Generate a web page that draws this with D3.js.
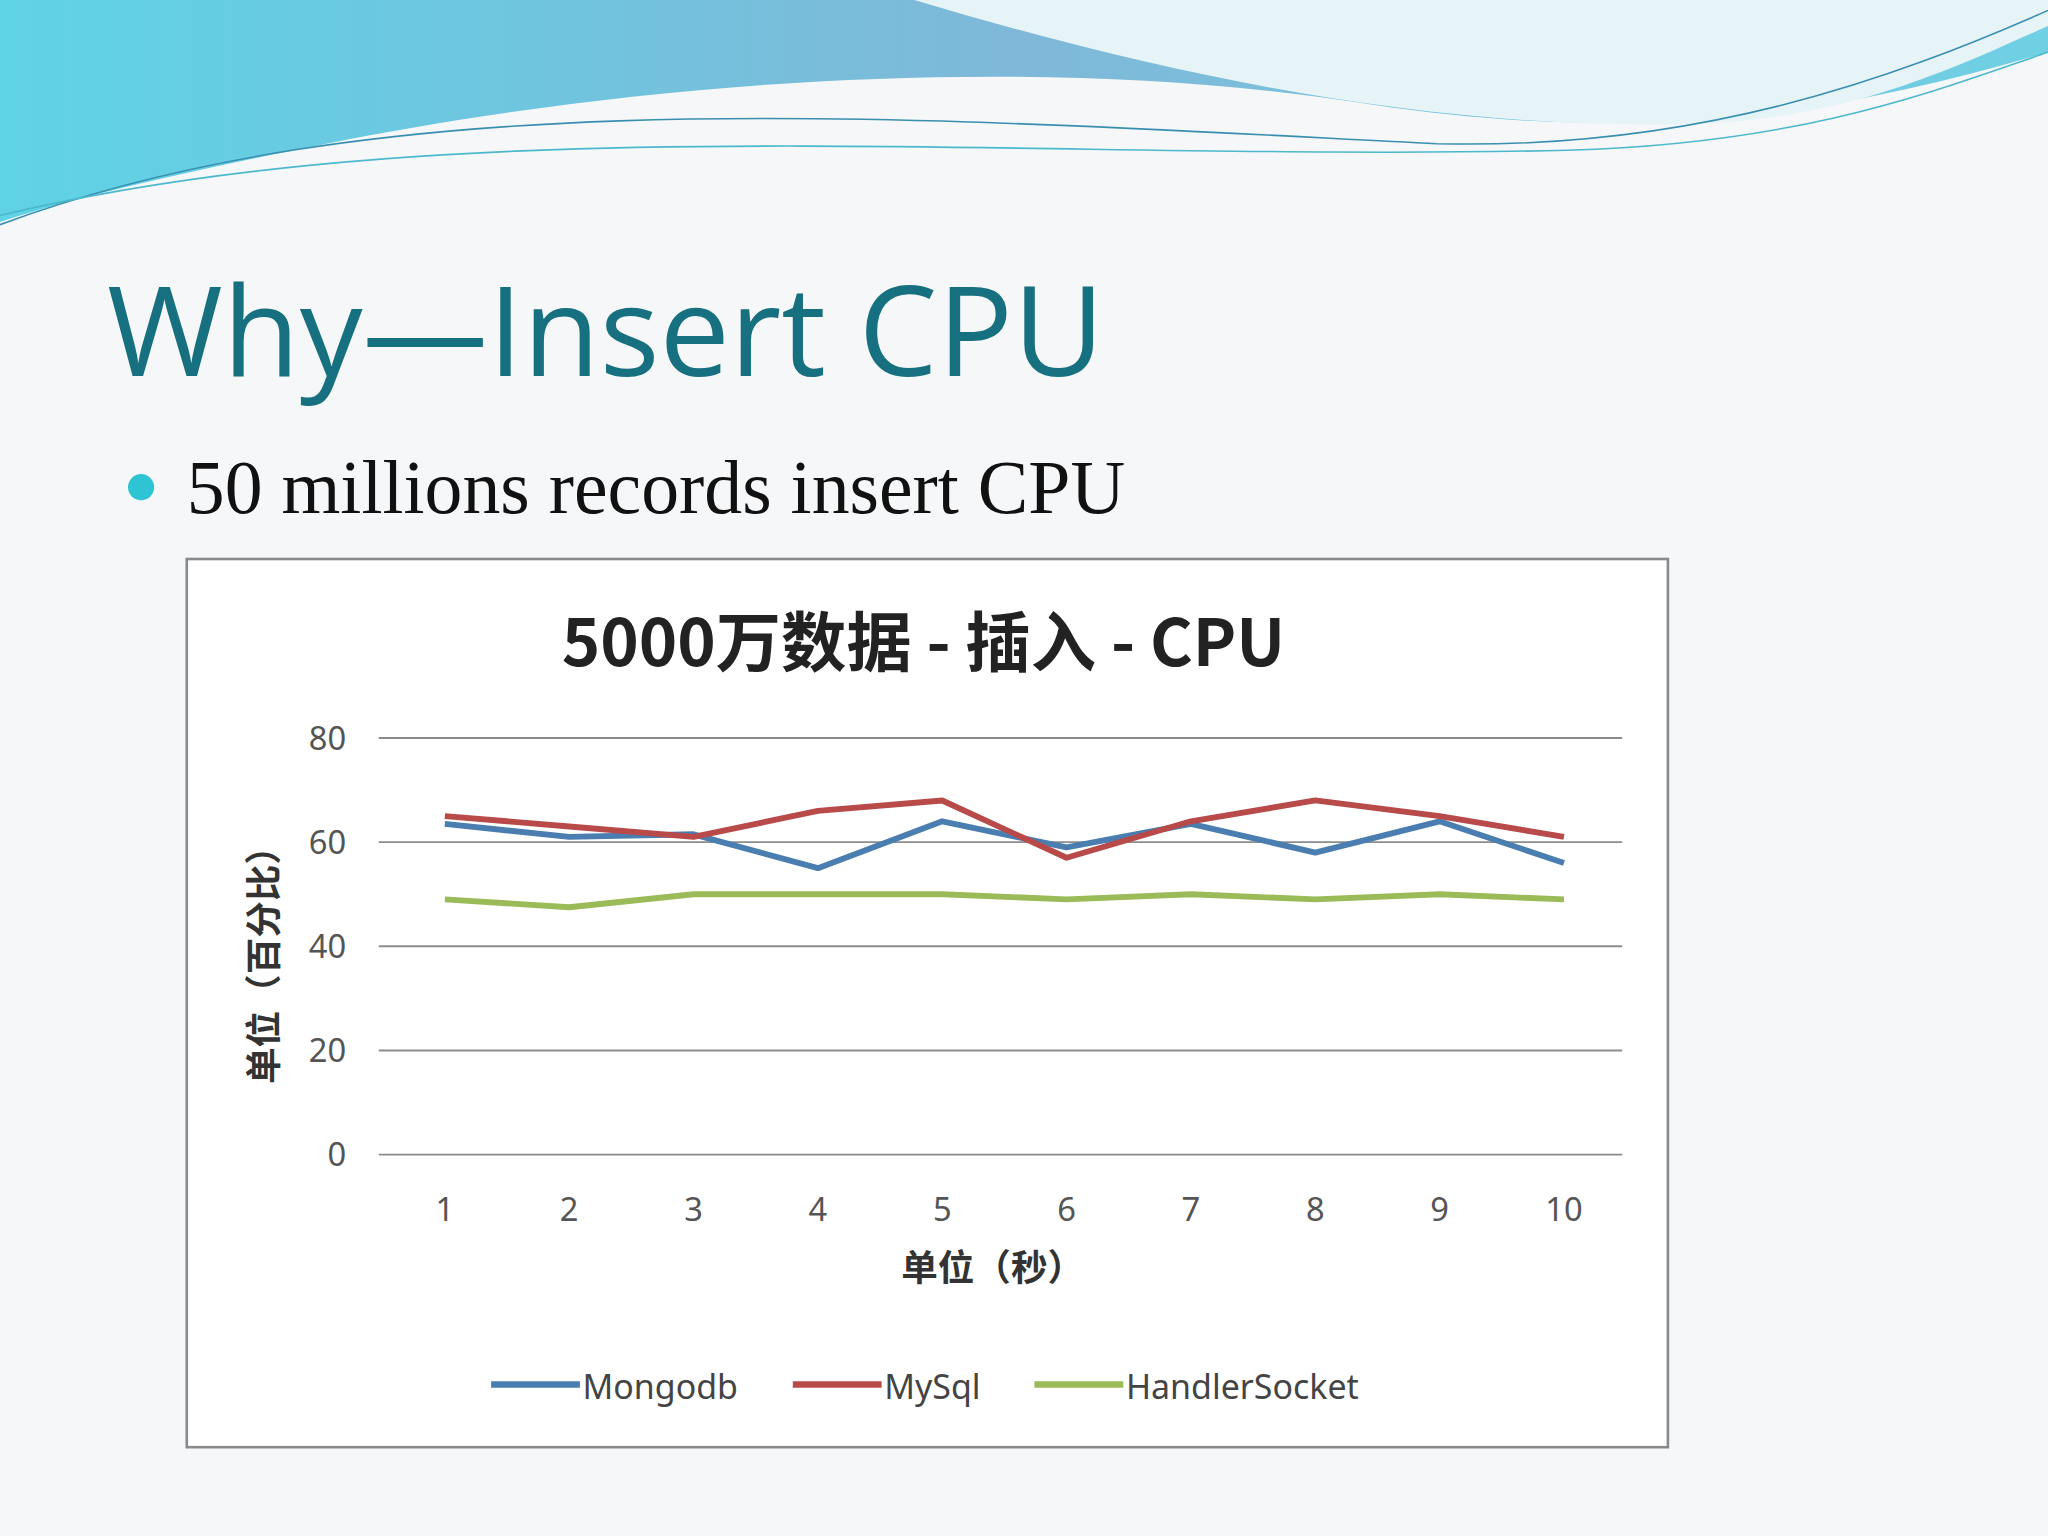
<!DOCTYPE html>
<html><head><meta charset="utf-8">
<script src="https://cdn.jsdelivr.net/npm/d3@7"></script>
<style>body{margin:0;background:#f6f7f9}</style></head>
<body><svg id="c" width="2048" height="1536" viewBox="0 0 1568 1176"></svg>
<script>
const categories = ["1","2","3","4","5","6","7","8","9","10"];
const mongodb = [63.5,61,61.5,55,64,59,63.5,58,64,56];
const mysql = [65,63,61,66,68,57,64,68,65,61];
const handlerSocket = [49,47.5,50,50,50,49,50,49,50,49];
const yTicks = [0,20,40,60,80];
const seriesNames = ["Mongodb","MySql","HandlerSocket"];
const colors = ["#4a7eb0","#b84a4a","#9bbb59"];

const svg = d3.select("#c");
const defs = svg.append("defs");
const g1 = defs.append("linearGradient").attr("id","hg").attr("x1",0).attr("x2",1);
g1.append("stop").attr("offset",0).attr("stop-color","#5fd3e6");
g1.append("stop").attr("offset",0.5).attr("stop-color","#7fb8d8");
g1.append("stop").attr("offset",1).attr("stop-color","#6fd0e4");
svg.append("rect").attr("width",1568).attr("height",1176).attr("fill","#f6f7f9");
svg.append("path").attr("d","M0,0 L1568,0 L1568,40 C1400,90 1250,110 1050,80 C800,40 500,60 250,110 C150,130 60,150 0,170 Z").attr("fill","url(#hg)");
svg.append("path").attr("d","M700,0 C900,60 1100,100 1300,95 C1420,90 1500,50 1568,20 L1568,0 Z").attr("fill","#e6f4f8");
svg.append("path").attr("d","M0,172 C300,60 700,90 1100,110 C1300,115 1450,60 1568,8").attr("fill","none").attr("stroke","#3a8fb0").attr("stroke-width",1.2);
svg.append("path").attr("d","M0,165 C350,80 800,125 1200,115 C1380,110 1480,70 1568,40").attr("fill","none").attr("stroke","#4bb8cc").attr("stroke-width",1.2);

svg.append("text").attr("x",82).attr("y",288).attr("font-family","Open Sans, DejaVu Sans").attr("font-size",96).attr("fill","#17707f").text("Why—Insert CPU");
svg.append("circle").attr("cx",108).attr("cy",373).attr("r",10).attr("fill","#2ec4d4");
svg.append("text").attr("x",143).attr("y",393).attr("font-family","Liberation Serif, serif").attr("font-size",58).attr("fill","#111").text("50 millions records insert CPU");

svg.append("rect").attr("x",143).attr("y",428).attr("width",1134).attr("height",680).attr("fill","#fff").attr("stroke","#8a8a8a").attr("stroke-width",2);
svg.append("text").attr("x",707).attr("y",510).attr("text-anchor","middle").attr("font-family","Noto Sans CJK SC").attr("font-weight","bold").attr("font-size",50).attr("fill","#222").text("5000万数据 - 插入 - CPU");

const x = d3.scaleBand().domain(categories).range([290,1242]);
const y = d3.scaleLinear().domain([0,80]).range([884,565]);
const ff = "Noto Sans, DejaVu Sans";
svg.append("g").selectAll("line").data(yTicks).join("line")
 .attr("x1",290).attr("x2",1242).attr("y1",d=>y(d)).attr("y2",d=>y(d)).attr("stroke","#8c8c8c").attr("stroke-width",1.5);
svg.append("g").selectAll("text").data(yTicks).join("text")
 .attr("x",265).attr("y",d=>y(d)+9).attr("text-anchor","end").attr("font-family",ff).attr("font-size",25).attr("fill","#555").text(d=>d);
svg.append("g").selectAll("text").data(categories).join("text")
 .attr("x",d=>x(d)+x.bandwidth()/2+3).attr("y",935).attr("text-anchor","middle").attr("font-family",ff).attr("font-size",25).attr("fill","#555").text(d=>d);
svg.append("text").attr("x",760).attr("y",981).attr("text-anchor","middle").attr("font-family","Noto Sans CJK SC").attr("font-weight","bold").attr("font-size",28).attr("fill","#333").text("单位（秒）");
svg.append("text").attr("transform","translate(212,732) rotate(-90)").attr("text-anchor","middle").attr("font-family","Noto Sans CJK SC").attr("font-weight","bold").attr("font-size",28).attr("fill","#333").text("单位（百分比）");

const line = d3.line().x((d,i)=>x(categories[i])+x.bandwidth()/2+3).y(d=>y(d));
[mongodb,mysql,handlerSocket].forEach((s,i)=>{
 svg.append("path").attr("d",line(s)).attr("fill","none").attr("stroke",colors[i]).attr("stroke-width",4.5).attr("stroke-linejoin","round");
});
const lx=[376,607,792];
seriesNames.forEach((n,i)=>{
 svg.append("line").attr("x1",lx[i]).attr("x2",lx[i]+68).attr("y1",1060).attr("y2",1060).attr("stroke",colors[i]).attr("stroke-width",5);
 svg.append("text").attr("x",lx[i]+70).attr("y",1071).attr("font-family",ff).attr("font-size",26).attr("fill","#444").text(n);
});
</script></body></html>
